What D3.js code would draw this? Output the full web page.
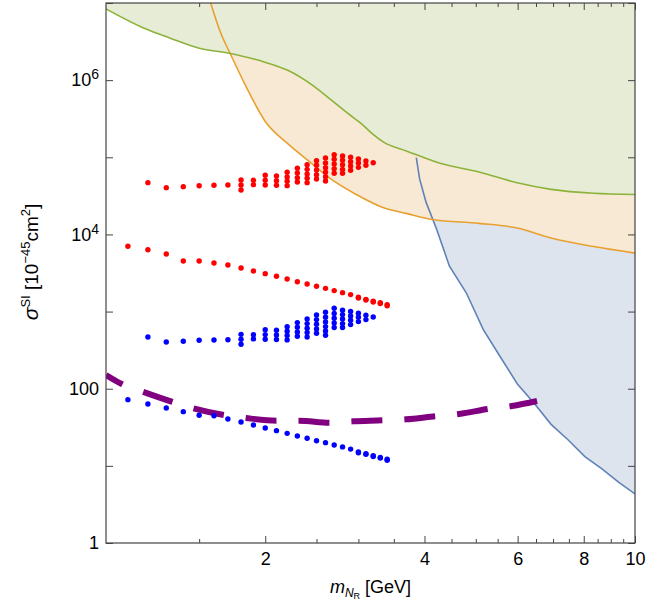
<!DOCTYPE html>
<html>
<head>
<meta charset="utf-8">
<script src="https://d3js.org/d3.v7.min.js"></script>
<style>
  body { margin: 0; background: #fff; }
  text { font-family: "Liberation Sans", Arial, sans-serif; fill: #000; }
</style>
</head>
<body>
<svg class="chart"></svg>
<script>
// x: m_NR [GeV], y: sigma_SI [1e-45 cm^2]
var massMajor = [2, 4, 6, 8, 10];
var massMinor = [1.5, 2.5, 3, 3.5, 4.5, 5, 5.5, 6.5, 7, 7.5, 8.5, 9, 9.5];
var sigmaTicks = [1, 10, 100, 1e3, 1e4, 1e5, 1e6, 1e7];
var sigmaLabels = { 1: ["1", ""], 100: ["100", ""], 10000: ["10", "4"], 1000000: ["10", "6"] };

// exclusion curves
var greenLimit = [[1, 8.4e6], [1.181, 4.71e6], [1.319, 3.53e6], [1.501, 2.59e6], [1.708, 2.23e6], [1.997, 1.71e6],
  [2.211, 1.33e6], [2.47, 8.35e5], [2.66, 5.58e5], [2.862, 3.73e5], [3.026, 2.79e5], [3.198, 1.98e5],
  [3.348, 1.57e5], [3.707, 1.2e5], [4.296, 8.3e4], [5.073, 6.45e4], [5.988, 4.67e4], [6.94, 3.84e4],
  [8.35, 3.42e4], [10, 3.3e4]];
var orangeLimit = [[1.577, 1e7], [1.645, 4.2e6], [1.723, 2.1e6], [1.838, 8.35e5], [1.997, 2.96e5], [2.211, 1.48e5],
  [2.425, 8.8e4], [2.66, 5.24e4], [2.97, 3.3e4], [3.348, 2.21e4], [3.707, 1.86e4], [4.14, 1.56e4],
  [5.073, 1.39e4], [5.988, 1.21e4], [6.94, 8.97e3], [8.35, 6.96e3], [10, 5.72e3]];
var blueLimit = [[3.86, 9.88e4], [3.916, 5.24e4], [4.027, 2.62e4], [4.217, 1.17e4], [4.457, 3.91e3], [4.8, 1.74e3],
  [5.167, 583], [5.562, 260], [5.988, 116], [6.447, 65], [6.94, 34.5], [7.47, 21.8], [8.04, 13.2],
  [8.66, 9.16], [9.32, 6.12], [10, 4.33]];
var purpleReach = [[1, 150.6], [1.071, 115], [1.173, 91.5], [1.331, 67.9], [1.46, 55.7], [1.671, 45.6],
  [1.839, 41.7], [2.105, 38.5], [2.317, 38.5], [2.651, 36.3], [2.93, 37.8], [3.339, 38.9], [3.69, 40.1],
  [4.224, 44.3], [4.649, 47.0], [5.32, 55.1], [5.853, 59.7], [6.53, 69.3]];

// scan points: [mass, [sigma values]]
var redFunnel = [
  [1.2, [4.69e4]], [1.3, [4.04e4]], [1.4, [4.16e4]], [1.5, [4.28e4]], [1.6, [4.34e4]], [1.7, [4.38e4]],
  [1.8, [5.08e4, 4.38e4, 3.77e4]], [1.9, [5.03e4, 4.42e4]], [2.0, [5.84e4, 5.03e4, 4.38e4]],
  [2.1, [5.73e4, 4.98e4, 4.34e4]], [2.2, [6.39e4, 5.56e4, 4.89e4, 4.29e4]],
  [2.3, [7.2e4, 6.26e4, 5.44e4, 4.79e4]], [2.4, [8.02e4, 6.98e4, 6.07e4, 5.35e4, 4.69e4]],
  [2.5, [9.04e4, 7.87e4, 6.84e4, 5.95e4, 5.24e4]], [2.6, [9.8e4, 8.44e4, 7.33e4, 6.39e4, 5.61e4, 4.93e4]],
  [2.7, [1.08e5, 9.42e4, 8.19e4, 7.12e4, 6.21e4]], [2.8, [1.04e5, 9.14e4, 8.02e4, 6.98e4, 6.21e4]],
  [2.9, [1.0e5, 8.77e4, 7.71e4, 6.78e4]], [3.0, [9.5e4, 8.44e4, 7.41e4]], [3.1, [8.95e4, 7.87e4]],
  [3.2, [8.51e4]]];
var redLine = [
  [1.1, [7.02e3]], [1.2, [6.34e3]], [1.3, [5.58e3]], [1.4, [4.53e3]], [1.5, [4.53e3]], [1.6, [4.26e3]],
  [1.7, [4.02e3]], [1.8, [3.67e3]], [1.9, [3.36e3]], [2.0, [3.1e3]], [2.1, [2.87e3]], [2.2, [2.64e3]],
  [2.3, [2.44e3]], [2.4, [2.28e3]], [2.5, [2.13e3]], [2.6, [2.0e3]], [2.7, [1.87e3]], [2.8, [1.76e3]],
  [2.9, [1.66e3]], [3.0, [1.53e3, 1.5e3]], [3.1, [1.44e3, 1.41e3]], [3.2, [1.36e3, 1.33e3]],
  [3.3, [1.3e3, 1.27e3]], [3.4, [1.23e3, 1.19e3]]];
var blueFunnel = [
  [1.2, [468]], [1.3, [403]], [1.4, [412]], [1.5, [424]], [1.6, [428]], [1.7, [432]],
  [1.8, [507, 437, 377]], [1.9, [502, 442]], [2.0, [583, 503, 438]],
  [2.1, [572, 498, 434]], [2.2, [638, 556, 489, 429]],
  [2.3, [719, 626, 544, 479]], [2.4, [801, 698, 607, 535, 469]],
  [2.5, [903, 787, 684, 595, 524]], [2.6, [978, 844, 733, 639, 561, 493]],
  [2.7, [1103, 942, 819, 712, 621]], [2.8, [1040, 914, 802, 698, 621]],
  [2.9, [1000, 877, 771, 678]], [3.0, [950, 844, 741]], [3.1, [895, 787]],
  [3.2, [851]]];
var blueLine = [
  [1.1, [72.1]], [1.2, [63.4]], [1.3, [56.2]], [1.4, [50.4]], [1.5, [45.2]], [1.6, [44.7]],
  [1.7, [40.5]], [1.8, [37.0]], [1.9, [33.9]], [2.0, [31.0]], [2.1, [28.6]], [2.2, [26.4]],
  [2.3, [24.4]], [2.4, [22.8]], [2.5, [21.2]], [2.6, [20.0]], [2.7, [18.6]], [2.8, [17.6]],
  [2.9, [16.5]], [3.0, [15.1, 14.8]], [3.1, [14.4, 14.1]], [3.2, [13.5, 13.2]],
  [3.3, [12.9, 12.6]], [3.4, [12.2, 11.8]]];

var margin = {top: 3, right: 29, bottom: 64, left: 106};
var chartWidth = 664 - margin.left - margin.right;
var chartHeight = 607 - margin.top - margin.bottom;

var x = d3.scaleLog().domain([1, 10]).range([0, chartWidth]);
var y = d3.scaleLog().domain([1, 1e7]).range([chartHeight, 0]);

var svg = d3.select('.chart').attr("width", 664).attr("height", 607);
var chart = svg.append("g").attr("transform", "translate(" + margin.left + "," + margin.top + ")");

chart.append("clipPath").attr("id", "plotclip")
  .append("rect").attr("width", chartWidth).attr("height", chartHeight);

var plot = chart.append("g").attr("clip-path", "url(#plotclip)");

var line = d3.line().x(function(d) { return x(d[0]); }).y(function(d) { return y(d[1]); });
var smooth = d3.line().curve(d3.curveMonotoneX).x(function(d) { return x(d[0]); }).y(function(d) { return y(d[1]); });

// filled regions (blue below orange below green)
plot.append("path").attr("d", line(blueLimit) + "L" + x(10) + "," + y(1e7) + "L" + x(blueLimit[0][0]) + "," + y(1e7) + "Z")
  .attr("fill", "#dee4ee");
plot.append("path").attr("d", smooth(orangeLimit) + "L" + x(10) + "," + y(1e7) + "Z")
  .attr("fill", "#f8e9d4");
plot.append("path").attr("d", smooth(greenLimit) + "L" + x(10) + "," + y(1e7) + "L" + x(1) + "," + y(1e7) + "Z")
  .attr("fill", "#e7ecd7");

plot.append("path").attr("d", line(blueLimit)).attr("fill", "none").attr("stroke", "#5f82b8").attr("stroke-width", 1.6);
plot.append("path").attr("d", smooth(orangeLimit)).attr("fill", "none").attr("stroke", "#e8a030").attr("stroke-width", 1.6);
plot.append("path").attr("d", smooth(greenLimit)).attr("fill", "none").attr("stroke", "#8db23a").attr("stroke-width", 1.6);

// dashed purple curve
plot.append("path").attr("d", smooth(purpleReach))
  .attr("fill", "none")
  .attr("stroke", "#800080")
  .attr("stroke-width", 6)
  .attr("stroke-dasharray", "31,22")
  .attr("stroke-dashoffset", 12);

function flatten(cols) {
  var pts = [];
  cols.forEach(function(c) { c[1].forEach(function(v) { pts.push([c[0], v]); }); });
  return pts;
}

function drawDots(cols, color) {
  plot.append("g").selectAll("circle")
    .data(flatten(cols))
    .enter().append("circle")
    .attr("cx", function(d) { return x(d[0]); })
    .attr("cy", function(d) { return y(d[1]); })
    .attr("r", 2.7)
    .attr("fill", color);
}
drawDots(redFunnel, "#ff0000");
drawDots(redLine, "#ff0000");
drawDots(blueFunnel, "#0000ff");
drawDots(blueLine, "#0000ff");

// axes, ticks pointing inward on all four sides
function styleAxis(g) {
  g.select(".domain").remove();
  g.selectAll("line").attr("stroke", "#444");
  g.selectAll("text").attr("font-size", 18).attr("fill", "#000")
    .style("font-family", '"Liberation Sans", Arial, sans-serif');
}

chart.append("g").attr("transform", "translate(0," + chartHeight + ")")
  .call(d3.axisBottom(x).tickValues(massMajor).tickSize(-7).tickPadding(9).tickFormat(d3.format("d")))
  .call(styleAxis);
chart.append("g").attr("transform", "translate(0," + chartHeight + ")")
  .call(d3.axisBottom(x).tickValues(massMinor).tickSize(-4).tickFormat(""))
  .call(styleAxis);
chart.append("g")
  .call(d3.axisTop(x).tickValues(massMajor).tickSize(-7).tickFormat(""))
  .call(styleAxis);
chart.append("g")
  .call(d3.axisTop(x).tickValues(massMinor).tickSize(-4).tickFormat(""))
  .call(styleAxis);

var yAxis = chart.append("g")
  .call(d3.axisLeft(y).tickValues(sigmaTicks).tickSize(-7).tickPadding(7).tickFormat(""))
  .call(styleAxis);
yAxis.selectAll(".tick text").each(function(d) {
  var lab = sigmaLabels[d];
  if (!lab) return;
  var t = d3.select(this);
  t.append("tspan").text(lab[0]);
  if (lab[1]) t.append("tspan").attr("dy", "-0.5em").attr("font-size", 14).text(lab[1]);
});
chart.append("g").attr("transform", "translate(" + chartWidth + ",0)")
  .call(d3.axisRight(y).tickValues(sigmaTicks).tickSize(-7).tickFormat(""))
  .call(styleAxis);

// frame
chart.append("rect").attr("width", chartWidth).attr("height", chartHeight)
  .attr("fill", "none").attr("stroke", "#444").attr("stroke-width", 1.2);

// x-axis title
var xt = svg.append("text").attr("x", margin.left + chartWidth / 2).attr("y", 593)
  .attr("text-anchor", "middle").attr("font-size", 18);
xt.append("tspan").attr("font-style", "italic").text("m");
xt.append("tspan").attr("font-style", "italic").attr("font-size", 12).attr("dy", 4).text("N");
xt.append("tspan").attr("font-size", 9).attr("dy", 2).text("R");
xt.append("tspan").attr("dy", -6).text(" [GeV]");

// y-axis title
var yt = svg.append("text").attr("transform", "translate(38," + 262 + ") rotate(-90)")
  .attr("text-anchor", "middle").attr("font-size", 19);
yt.append("tspan").attr("font-style", "italic").attr("font-size", 21).text("σ");
yt.append("tspan").attr("font-size", 13).attr("dy", -8).text("SI");
yt.append("tspan").attr("dy", 8).text(" [10");
yt.append("tspan").attr("font-size", 13).attr("dy", -8).text("−45");
yt.append("tspan").attr("dy", 8).text("cm");
yt.append("tspan").attr("font-size", 13).attr("dy", -8).text("2");
yt.append("tspan").attr("dy", 8).text("]");
</script>
</body>
</html>
